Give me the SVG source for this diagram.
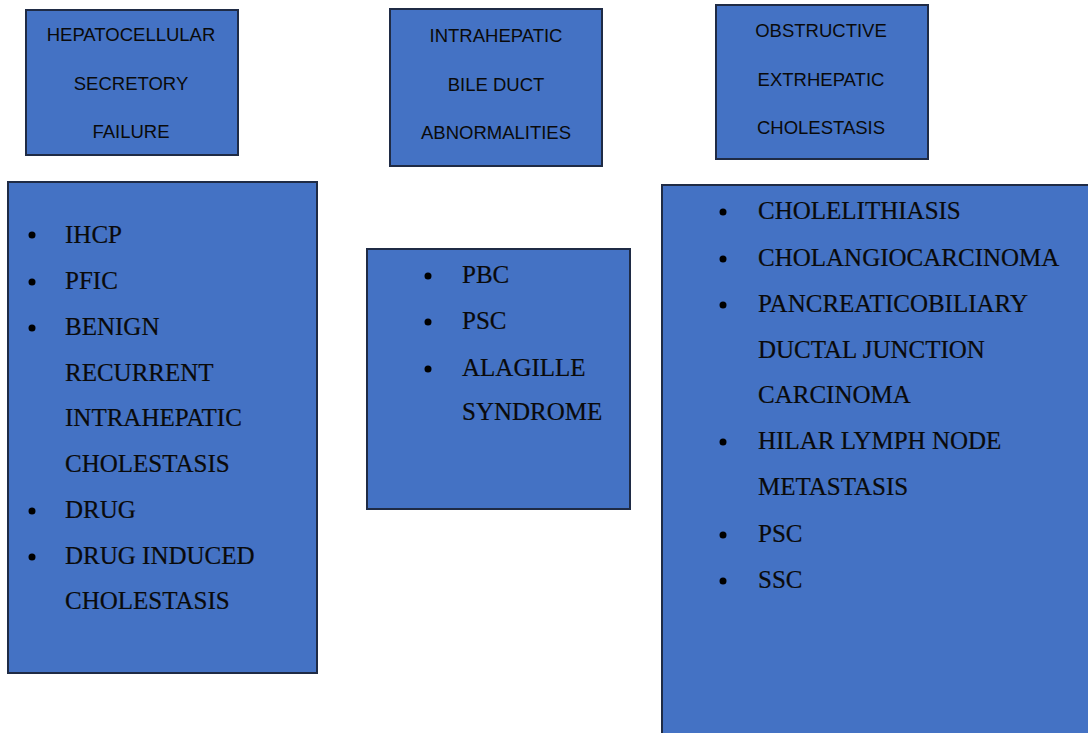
<svg xmlns="http://www.w3.org/2000/svg" width="1088" height="733" viewBox="0 0 1088 733">
<style>
.box{fill:#4472C4;stroke:#1f2b45;stroke-width:2}
.hd{font-family:"Liberation Sans",Arial,sans-serif;font-size:18.5px;fill:#0a0a0a;text-anchor:middle}
.li{font-family:"Liberation Serif","Times New Roman",serif;font-size:25px;fill:#0a0a0a;stroke:#0a0a0a;stroke-width:0.2}
.b{fill:#000}
</style>
<rect x="0" y="0" width="1088" height="733" fill="#fff"/>
<g id="connectors"/>
<g id="hdr1">
<rect class="box" x="26" y="10" width="212" height="145"/>
<text class="hd" x="131" y="41">HEPATOCELLULAR</text>
<text class="hd" x="131" y="90">SECRETORY</text>
<text class="hd" x="131" y="138">FAILURE</text>
</g>
<g id="hdr2">
<rect class="box" x="390" y="9" width="212" height="157"/>
<text class="hd" x="496" y="42">INTRAHEPATIC</text>
<text class="hd" x="496" y="91">BILE DUCT</text>
<text class="hd" x="496" y="139">ABNORMALITIES</text>
</g>
<g id="hdr3">
<rect class="box" x="716" y="5" width="212" height="154"/>
<text class="hd" x="821" y="37">OBSTRUCTIVE</text>
<text class="hd" x="821" y="86">EXTRHEPATIC</text>
<text class="hd" x="821" y="134">CHOLESTASIS</text>
</g>
<g id="list1">
<rect class="box" x="8" y="182" width="309" height="491"/>
<circle class="b" cx="32" cy="235" r="3.5"/>
<text class="li" x="65" y="243">IHCP</text>
<circle class="b" cx="32" cy="282" r="3.5"/>
<text class="li" x="65" y="289">PFIC</text>
<circle class="b" cx="32" cy="328" r="3.5"/>
<text class="li" x="65" y="335">BENIGN</text>
<text class="li" x="65" y="381">RECURRENT</text>
<text class="li" x="65" y="426">INTRAHEPATIC</text>
<text class="li" x="65" y="472">CHOLESTASIS</text>
<circle class="b" cx="32" cy="511" r="3.5"/>
<text class="li" x="65" y="518">DRUG</text>
<circle class="b" cx="32" cy="557" r="3.5"/>
<text class="li" x="65" y="564">DRUG INDUCED</text>
<text class="li" x="65" y="609">CHOLESTASIS</text>
</g>
<g id="list2">
<rect class="box" x="367" y="249" width="263" height="260"/>
<circle class="b" cx="428" cy="276" r="3.5"/>
<text class="li" x="462" y="283">PBC</text>
<circle class="b" cx="428" cy="322" r="3.5"/>
<text class="li" x="462" y="329">PSC</text>
<circle class="b" cx="428" cy="369" r="3.5"/>
<text class="li" x="462" y="376">ALAGILLE</text>
<text class="li" x="462" y="420">SYNDROME</text>
</g>
<g id="list3">
<rect class="box" x="662" y="185" width="440" height="560"/>
<circle class="b" cx="723" cy="212" r="3.5"/>
<text class="li" x="758" y="219">CHOLELITHIASIS</text>
<circle class="b" cx="723" cy="259" r="3.5"/>
<text class="li" x="758" y="266">CHOLANGIOCARCINOMA</text>
<circle class="b" cx="723" cy="305" r="3.5"/>
<text class="li" x="758" y="312">PANCREATICOBILIARY</text>
<text class="li" x="758" y="358">DUCTAL JUNCTION</text>
<text class="li" x="758" y="403">CARCINOMA</text>
<circle class="b" cx="723" cy="442" r="3.5"/>
<text class="li" x="758" y="449">HILAR LYMPH NODE</text>
<text class="li" x="758" y="495">METASTASIS</text>
<circle class="b" cx="723" cy="535" r="3.5"/>
<text class="li" x="758" y="542">PSC</text>
<circle class="b" cx="723" cy="581" r="3.5"/>
<text class="li" x="758" y="588">SSC</text>
</g>
</svg>
